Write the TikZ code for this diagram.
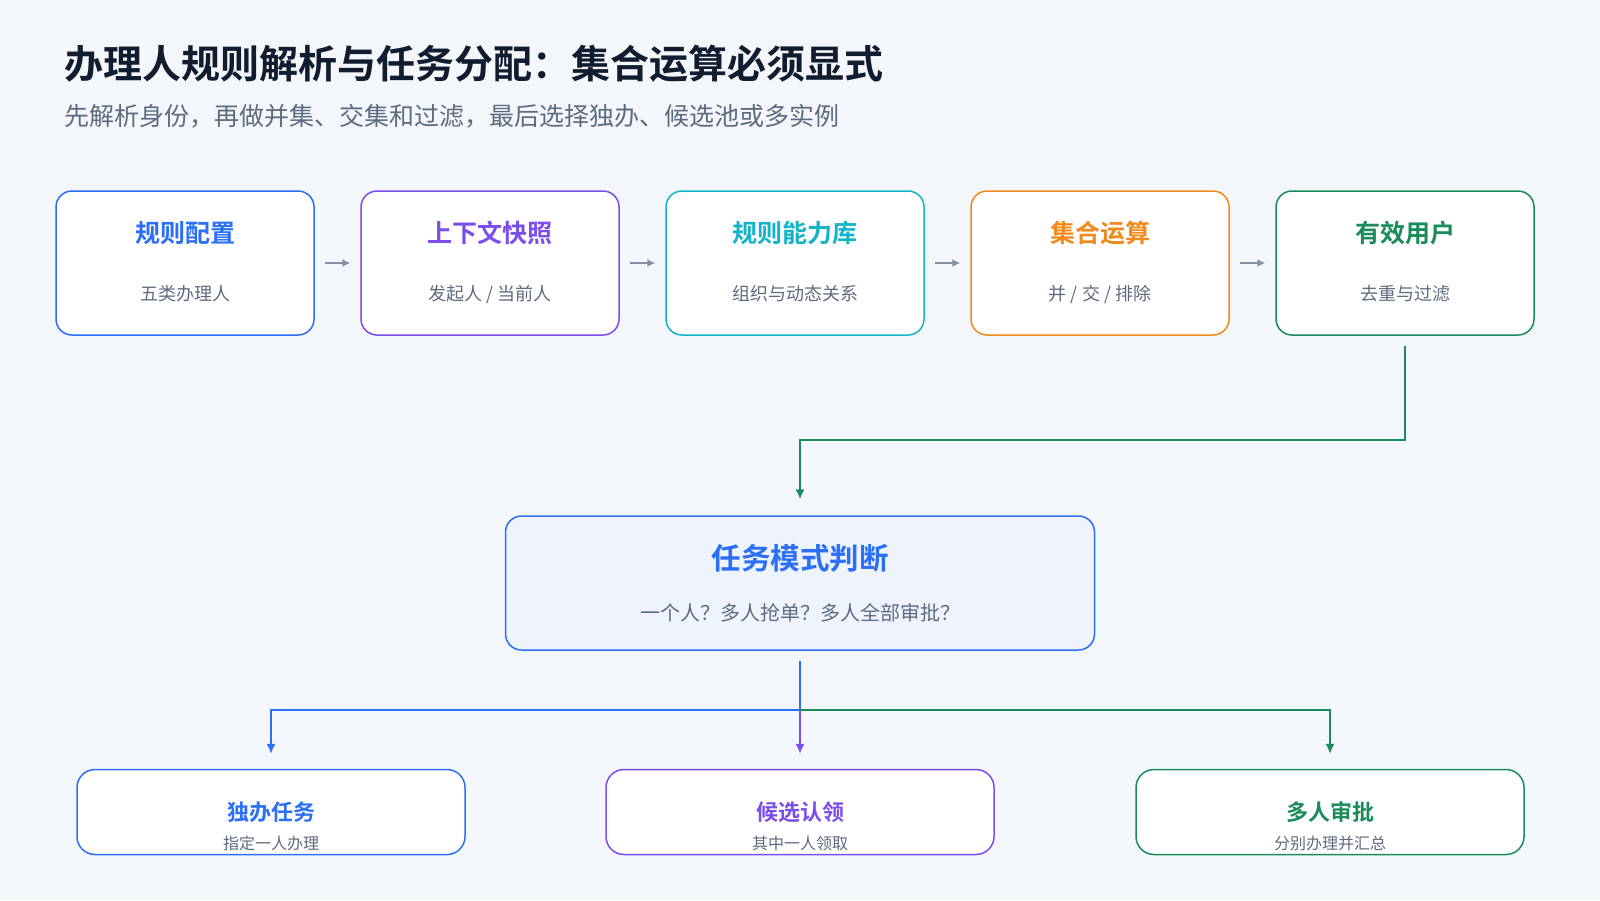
\documentclass[tikz,border=0pt]{standalone}
\usepackage{fontspec}
\setmainfont{Noto Sans CJK SC}
\newfontfamily\cjkbold{Noto Sans CJK SC Bold}
\usetikzlibrary{arrows.meta,positioning}
\definecolor{bgc}{HTML}{F3F6FB}
\definecolor{titlec}{HTML}{111C2E}
\definecolor{grayc}{HTML}{5E6B7E}
\definecolor{bluec}{HTML}{2B6FF6}
\definecolor{purplec}{HTML}{7B4DEB}
\definecolor{cyanc}{HTML}{12B4C8}
\definecolor{orangec}{HTML}{F08A1C}
\definecolor{greenc}{HTML}{1A8C5C}
\definecolor{arrowc}{HTML}{8390A3}
\tikzset{
  stage/.style={draw=#1, line width=1.5pt, fill=white, rounded corners=16pt,
    minimum width=258pt, minimum height=144pt},
  leaf/.style={draw=#1, line width=1.5pt, fill=white, rounded corners=18pt,
    minimum width=388pt, minimum height=85pt},
  head/.style={text=#1, font=\cjkbold\fontsize{25}{29}\selectfont},
  sub/.style={text=grayc, font=\fontsize{18}{21}\selectfont},
  nextstep/.style={draw=arrowc, line width=1.5pt, -{Latex[length=8pt,width=8pt]}},
  flow/.style={draw=#1, line width=1.5pt, -{Latex[length=10pt,width=9pt]}},
}
\begin{document}
\begin{tikzpicture}[x=1pt,y=-1pt]
\fill[bgc] (0,0) rectangle (1600,900);
\useasboundingbox (0,0) rectangle (1600,900);
\node[anchor=west, inner sep=0pt, text=titlec, font=\cjkbold\fontsize{39}{44}\selectfont] (title) at (64,64) {办理人规则解析与任务分配：集合运算必须显式};
\node[anchor=west, inner sep=0pt, text=grayc, font=\fontsize{25}{29}\selectfont] (subtitle) at (64,116) {先解析身份，再做并集、交集和过滤，最后选择独办、候选池或多实例};
% stages
\node[stage=bluec] (cfg) at (185,263) {};
\node[stage=purplec] (ctx) at (490,263) {};
\node[stage=cyanc] (lib) at (795,263) {};
\node[stage=orangec] (set) at (1100,263) {};
\node[stage=greenc] (usr) at (1405,263) {};
\foreach \n/\c/\h/\s in {cfg/bluec/规则配置/{五类办理人}, ctx/purplec/上下文快照/{发起人 / 当前人},
  lib/cyanc/规则能力库/{组织与动态关系}, set/orangec/集合运算/{并 / 交 / 排除}, usr/greenc/有效用户/{去重与过滤}} {
  \node[head=\c] (\n-h) at ([yshift=30pt]\n.center) {\h};
  \node[sub] (\n-s) at ([yshift=-31pt]\n.center) {\s};
}
\foreach \a/\b in {cfg/ctx, ctx/lib, lib/set, set/usr}
  \draw[nextstep] ([xshift=10pt]\a.east) -- ([xshift=-10pt]\b.west);
% mode
\node[stage=bluec, fill=bluec!8, minimum width=589pt, minimum height=134pt] (mode) at (800,583) {};
\node[head=bluec, font=\cjkbold\fontsize{29.5}{33}\selectfont] (mode-h) at (800,558) {任务模式判断};
\node[sub, font=\fontsize{20}{23}\selectfont] (mode-s) at (800,613) {一个人？多人抢单？多人全部审批？};
\coordinate (usr-out) at ([yshift=-10pt]usr.south);
\coordinate (mode-in) at ([yshift=16pt]mode.north);
\draw[flow=greenc] (usr-out) |- (800,440) -- (mode-in);
% leaves
\node[leaf=bluec] (solo) at (271,812) {};
\node[leaf=purplec] (claim) at (800,812) {};
\node[leaf=greenc] (multi) at (1330,812) {};
\foreach \n/\c/\h/\s in {solo/bluec/独办任务/指定一人办理, claim/purplec/候选认领/其中一人领取, multi/greenc/多人审批/分别办理并汇总} {
  \node[head=\c, font=\cjkbold\fontsize{22}{26}\selectfont] (\n-h) at ([yshift=0pt]\n.center) {\h};
  \node[sub, font=\fontsize{16}{18}\selectfont] (\n-s) at ([yshift=-31pt]\n.center) {\s};
}
\coordinate (mode-out) at ([yshift=-10pt]mode.south);
\coordinate (split) at (800,710);
\draw[flow=bluec] (mode-out) -- (split) -| ([yshift=15pt]solo.north);
\draw[flow=purplec] (split) -- ([yshift=15pt]claim.north);
\draw[flow=greenc] (split) -| ([yshift=15pt]multi.north);
\end{tikzpicture}
\end{document}
